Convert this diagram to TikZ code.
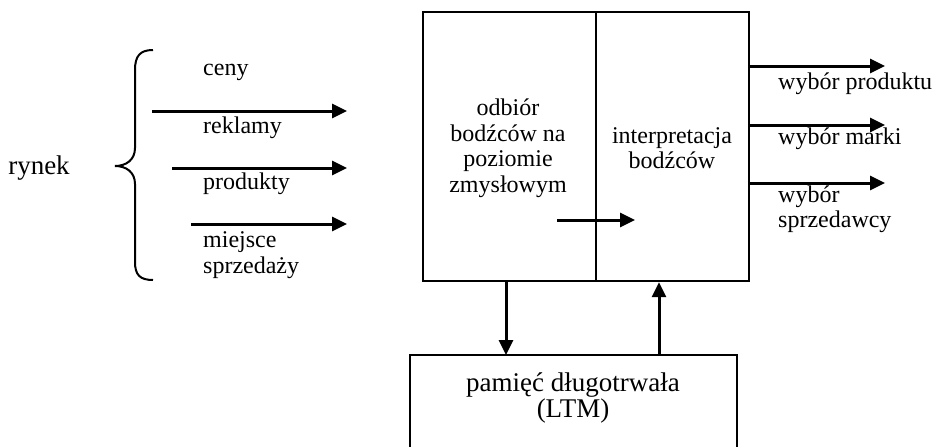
\documentclass[tikz,border=0pt]{standalone}
\usepackage{fontspec}
\setmainfont{Liberation Serif}
\usetikzlibrary{arrows.meta}
\begin{document}
\begin{tikzpicture}[x=1pt,y=-1pt,
  txt/.style={font=\fontsize{24}{25.5}\selectfont,inner sep=0pt,align=center},
  ltxt/.style={txt,align=left,anchor=west},
  arr/.style={line width=3pt,-{Triangle[length=15pt,width=14pt]}},
  boxline/.style={line width=2.4pt}]
\useasboundingbox (0,0) rectangle (935,447);
% brace
\draw[line width=2pt] (153,50) .. controls (140,50) and (135,56) .. (135,70) -- (135,148)
  .. controls (135,160) and (126,166) .. (115,166)
  .. controls (126,166) and (135,172) .. (135,184) -- (135,262)
  .. controls (135,275) and (140,280) .. (153,280);
\node[txt,font=\fontsize{27}{29}\selectfont] (rynek) at (39,168) {rynek};
% left labels
\node[ltxt] (ceny) at (203,72) {ceny};
\node[ltxt] (reklamy) at (203,128) {reklamy};
\node[ltxt] (produkty) at (203,184) {produkty};
\node[ltxt] (miejsce) at (203,255) {miejsce\\sprzedaży};
% left arrows
\coordinate (a1s) at (152,111); \coordinate (a1e) at (347,111);
\coordinate (a2s) at (172,168); \coordinate (a2e) at (347,168);
\coordinate (a3s) at (191,224); \coordinate (a3e) at (347,224);
\draw[arr] (a1s) -- (a1e);
\draw[arr] (a2s) -- (a2e);
\draw[arr] (a3s) -- (a3e);
% main box
\node[draw,boxline,minimum width=173pt,minimum height=269pt,inner sep=0pt] (odb) at (509.5,146.5) {};
\node[draw,boxline,minimum width=153pt,minimum height=269pt,inner sep=0pt] (int) at (672.5,146.5) {};
\node[txt] (odbt) at (508,148) {odbiór\\bodźców na\\poziomie\\zmysłowym};
\node[txt] (intt) at (672,148) {interpretacja\\bodźców};
\coordinate (ms) at (557,220); \coordinate (me) at (635,220);
\draw[arr] (ms) -- (me);
% right arrows
\coordinate (r1e) at (885,66); \coordinate (r2e) at (885,125); \coordinate (r3e) at (885,183);
\draw[arr] (int.east |- r1e) -- (r1e);
\draw[arr] (int.east |- r2e) -- (r2e);
\draw[arr] (int.east |- r3e) -- (r3e);
\node[ltxt] (w1) at (778,84) {wybór produktu};
\node[ltxt] (w2) at (778,139) {wybór marki};
\node[ltxt] (w3) at (778,209) {wybór\\sprzedawcy};
% LTM box (bottom cut off)
\coordinate (ltl) at (410,355); \coordinate (ltr) at (737,355);
\draw[boxline] (410,450) -- (ltl) -- (ltr) -- (737,450);
\node[txt,font=\fontsize{27}{26}\selectfont] (ltm) at (573,398) {pamięć długotrwała\\(LTM)};
\draw[arr] (odb.south -| 506,0) -- (506,355);
\draw[arr] (659,355) -- (int.south -| 659,0);
\end{tikzpicture}
\end{document}
